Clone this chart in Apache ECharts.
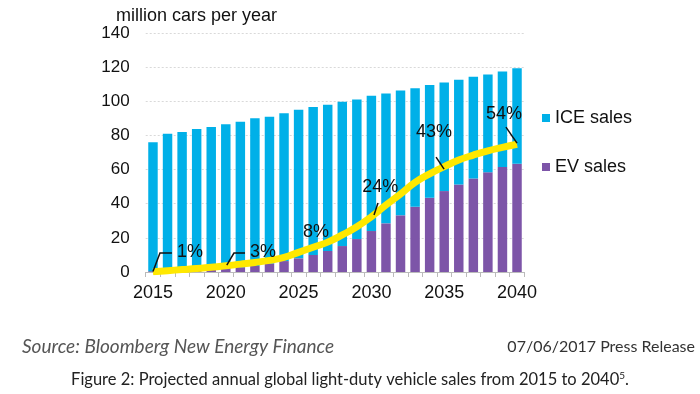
<!DOCTYPE html>
<html><head><meta charset="utf-8">
<script src="https://cdn.jsdelivr.net/npm/echarts@6/dist/echarts.min.js"></script>
<style>html,body{margin:0;padding:0;background:#fff}#c{width:700px;height:394px}</style>
</head><body><div id="c"></div>
<script>
const years = ['2015','2016','2017','2018','2019','2020','2021','2022','2023','2024','2025','2026','2027','2028','2029','2030','2031','2032','2033','2034','2035','2036','2037','2038','2039','2040'];
const evSales = [0.5,0.7,1.0,1.3,1.8,2.3,2.8,3.5,5.0,6.4,8.0,10.0,12.3,15.2,19.3,24.0,28.5,33.2,38.2,43.5,47.4,51.3,54.8,58.5,61.5,63.4];
const iceSales = [75.5,80.3,81.0,82.4,83.2,84.3,85.2,86.5,86.0,86.6,87.0,86.6,85.7,84.5,81.7,79.2,76.1,73.1,69.5,66.0,63.6,61.3,59.6,57.2,55.9,56.0];
const evShareCurve = [0.2,0.8,1.4,2.0,2.8,3.6,4.6,5.6,6.8,8.5,11.5,14.5,17.5,21.7,26.5,32.4,39.2,45.7,52.5,57.5,61.7,65.6,68.5,71.0,73.0,74.8];
const shareLabels = ['1%','3%','8%','24%','43%','54%'];
const yMin = 0, yMax = 140, yStep = 20;

// annotation placement (data space: category index, value)
const labelAt = [[2.54,11.7],[7.55,11.7],[11.2,23.4],[15.6,49.8],[19.3,82],[24.1,92.5]];
const leaderAt = [
  [[0,0.3],[0.48,11.1],[1.3,11.1]],
  [[5.07,4],[5.56,11.1],[6.32,11.1]],
  null,
  [[15.18,33.4],[15.45,40.4]],
  [[19.44,67.3],[19.99,60.3]],
  [[24.24,84.9],[25,75.5]]
];

const FONT = 'Liberation Sans, Arial, sans-serif';
const chart = echarts.init(document.getElementById('c'), null, {renderer:'canvas'});
chart.setOption({
  animation:false,
  backgroundColor:'#fff',
  title:{text:'million cars per year', left:111, top:2, textStyle:{fontFamily:FONT,fontSize:18,fontWeight:'normal',color:'#111'}},
  grid:{left:145.7, right:175.7, top:33, bottom:122, containLabel:false},
  legend:[
    {data:['ICE sales'], left:537, top:104, itemWidth:8, itemHeight:8, icon:'rect', textStyle:{fontFamily:FONT,fontSize:18,color:'#111'}},
    {data:['EV sales'], left:537, top:153, itemWidth:8, itemHeight:8, icon:'rect', textStyle:{fontFamily:FONT,fontSize:18,color:'#111'}}
  ],
  xAxis:{type:'category', data:years,
    axisLine:{lineStyle:{color:'#bbb',width:1}},
    axisTick:{show:true, interval:0, length:5, lineStyle:{color:'#bbb'}},
    axisLabel:{interval:4, fontFamily:FONT, fontSize:18, color:'#111', margin:12}},
  yAxis:{type:'value', min:yMin, max:yMax, interval:yStep,
    axisLine:{show:false}, axisTick:{show:false},
    axisLabel:{fontFamily:FONT, fontSize:17, color:'#111', margin:16},
    splitLine:{lineStyle:{color:'#d9d9d9', type:[2,2], width:1}}},
  series:[
    {name:'EV sales', type:'bar', stack:'s', data:evSales, barWidth:'65%', itemStyle:{color:'#7D55A8'}},
    {name:'ICE sales', type:'bar', stack:'s', data:iceSales, barWidth:'65%', itemStyle:{color:'#00B0E8'}},
    {name:'share', type:'line', data:evShareCurve, smooth:true, showSymbol:false, symbol:'none', z:5,
      lineStyle:{color:'#FFE800', width:7}}
  ]
});

// map fractional data coordinates to pixels via the library's axes
const pA = chart.convertToPixel({seriesIndex:0}, [0, yMin]);
const pB = chart.convertToPixel({seriesIndex:0}, [years.length-1, yMax]);
function px(pt){
  return [pA[0] + (pB[0]-pA[0]) * pt[0]/(years.length-1),
          pA[1] + (pB[1]-pA[1]) * (pt[1]-yMin)/(yMax-yMin)];
}
const g = [];
shareLabels.forEach((t,i)=>{
  const c = px(labelAt[i]);
  g.push({type:'text', x:c[0], y:c[1], z:20, style:{text:t, fontFamily:FONT, fontSize:18, fill:'#111', textAlign:'center', textVerticalAlign:'middle'}});
  if (leaderAt[i]) g.push({type:'polyline', z:20, shape:{points:leaderAt[i].map(px)}, style:{stroke:'#111', lineWidth:1.5, fill:null}});
});
g.push({type:'text', left:22, top:337, style:{text:'Source: Bloomberg New Energy Finance', fontFamily:'Lato, sans-serif', fontStyle:'italic', fontSize:19, fill:'#555'}});
g.push({type:'text', right:5, top:339, style:{text:'07/06/2017 Press Release', fontFamily:'Lato, sans-serif', fontSize:16, fill:'#333'}});
g.push({type:'text', left:'center', top:371, style:{
  text:'Figure 2: Projected annual global light-duty vehicle sales from 2015 to 2040{s|5}.',
  rich:{s:{fontSize:10, verticalAlign:'top', padding:[0,0,7,0], fontFamily:'Lato, sans-serif', fill:'#222'}},
  fontFamily:'Lato, sans-serif', fontSize:16.5, fill:'#222'}});
chart.setOption({graphic:g});
</script></body></html>
